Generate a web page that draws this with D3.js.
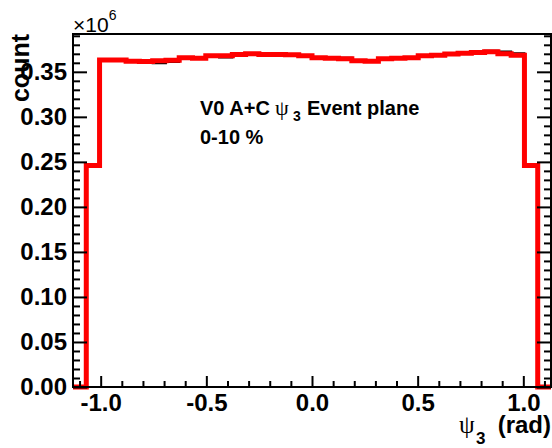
<!DOCTYPE html>
<html>
<head>
<meta charset="utf-8">
<script src="https://cdn.jsdelivr.net/npm/d3@7"></script>
<style>
  html, body { margin: 0; padding: 0; background: #fff; }
  svg { display: block; }
</style>
</head>
<body>
<script>
// ---- data ----
const xMin = -1.131, xMax = 1.131, nBins = 36;
// red histogram (counts per bin)
const redCounts = [0, 246000,
  363000, 363000, 361700, 361500, 362200, 362800, 365600, 365000,
  367800, 367800, 369200, 370000, 369200, 369200, 368900, 367800,
  365600, 365000, 364400, 362200, 361700, 364400, 365200, 365600,
  367800, 368300, 369700, 370600, 371400, 372200, 370000, 368300,
  246000, 0];
// black histogram (counts per bin)
const blackCounts = [0, 246000,
  364000, 363500, 361500, 360500, 359500, 361000, 364500, 365500,
  366500, 366000, 368500, 370500, 369500, 369000, 369500, 368500,
  366000, 364500, 365500, 363000, 361500, 363500, 366000, 366500,
  368500, 369000, 370000, 371500, 372000, 373500, 372500, 370500,
  246000, 0];
const xMajor = [-1.0, -0.5, 0.0, 0.5, 1.0];
const xMajorLabels = ["-1.0", "-0.5", "0.0", "0.5", "1.0"];
const xMinor = [-1.1, -0.9, -0.8, -0.7, -0.6, -0.4, -0.3, -0.2, -0.1, 0.1, 0.2, 0.3, 0.4, 0.6, 0.7, 0.8, 0.9, 1.1];
const yMajor = [0, 50000, 100000, 150000, 200000, 250000, 300000, 350000];
const yMajorLabels = ["0.00", "0.05", "0.10", "0.15", "0.20", "0.25", "0.30", "0.35"];
const yMinor = [10000, 20000, 30000, 40000, 60000, 70000, 80000, 90000, 110000, 120000, 130000, 140000,
  160000, 170000, 180000, 190000, 210000, 220000, 230000, 240000, 260000, 270000, 280000, 290000,
  310000, 320000, 330000, 340000, 360000, 370000, 380000, 390000];

// ---- layout ----
const W = 552, H = 448;
const L = 73, R = 551, T = 34, B = 387;
const FONT = "'Liberation Sans', Arial, Helvetica, sans-serif";
const SERIF = "'Liberation Serif', 'Times New Roman', serif";

const svg = d3.select("body").append("svg").attr("width", W).attr("height", H);

const x = d3.scaleLinear().domain([xMin, xMax]).range([L, R]);
const y = d3.scaleLinear().domain([0, 392000]).range([B, T]);

const binW = (xMax - xMin) / nBins;
function stepPoints(counts) {
  const pts = counts.map((c, i) => [xMin + i * binW, c]);
  pts.push([xMax, counts[counts.length - 1]]);
  return pts;
}
const line = d3.line().x(d => x(d[0])).y(d => y(d[1])).curve(d3.curveStepAfter);

// histograms
svg.append("path").attr("d", line(stepPoints(blackCounts)))
  .attr("fill", "none").attr("stroke", "#000").attr("stroke-width", 2);
svg.append("path").attr("d", line(stepPoints(redCounts)))
  .attr("fill", "none").attr("stroke", "#ff0000").attr("stroke-width", 5);

// axes
function styleAxis(g) {
  g.select(".domain").remove();
  g.selectAll(".tick line").attr("stroke", "#000").attr("stroke-width", 2);
  g.selectAll("text").attr("font-family", FONT).attr("font-weight", "bold")
    .attr("font-size", 24).attr("fill", "#000");
}
// left
svg.append("g").attr("transform", `translate(${L},0)`)
  .call(d3.axisLeft(y).tickValues(yMinor).tickSize(-7).tickFormat(""))
  .call(styleAxis);
svg.append("g").attr("transform", `translate(${L},0)`)
  .call(d3.axisLeft(y).tickValues(yMajor).tickSize(-14).tickPadding(6)
    .tickFormat((d, i) => yMajorLabels[i]))
  .call(styleAxis);
// right
svg.append("g").attr("transform", `translate(${R},0)`)
  .call(d3.axisRight(y).tickValues(yMinor).tickSize(-7).tickFormat(""))
  .call(styleAxis);
svg.append("g").attr("transform", `translate(${R},0)`)
  .call(d3.axisRight(y).tickValues(yMajor).tickSize(-14).tickFormat(""))
  .call(styleAxis);
// bottom
svg.append("g").attr("transform", `translate(0,${B})`)
  .call(d3.axisBottom(x).tickValues(xMinor).tickSize(-6).tickFormat(""))
  .call(styleAxis);
svg.append("g").attr("transform", `translate(0,${B})`)
  .call(d3.axisBottom(x).tickValues(xMajor).tickSize(-11).tickPadding(7)
    .tickFormat((d, i) => xMajorLabels[i]))
  .call(styleAxis);

// frame
svg.append("rect").attr("x", L).attr("y", T).attr("width", R - L).attr("height", B - T)
  .attr("fill", "none").attr("stroke", "#000").attr("stroke-width", 2);

// y title
svg.append("text").attr("transform", `translate(29,${T}) rotate(-90)`)
  .attr("text-anchor", "end").attr("font-family", FONT).attr("font-weight", "bold")
  .attr("font-size", 25).text("count");

// exponent
const ex = svg.append("text").attr("x", L).attr("y", 32)
  .attr("font-family", FONT).attr("font-size", 21);
ex.append("tspan").text("×10");
ex.append("tspan").attr("font-size", 14).attr("dy", -12).text("6");

// x title
svg.append("text").attr("x", 459).attr("y", 433)
  .attr("font-family", SERIF).attr("font-size", 25).text("ψ");
svg.append("text").attr("x", 476).attr("y", 444)
  .attr("font-family", FONT).attr("font-weight", "bold").attr("font-size", 17).text("3");
svg.append("text").attr("x", R).attr("y", 433).attr("text-anchor", "end")
  .attr("font-family", FONT).attr("font-weight", "bold").attr("font-size", 24).text("(rad)");

// annotation
svg.append("text").attr("x", 200).attr("y", 115)
  .attr("font-family", FONT).attr("font-weight", "bold").attr("font-size", 20).text("V0 A+C");
svg.append("text").attr("x", 275).attr("y", 115)
  .attr("font-family", SERIF).attr("font-size", 22).text("ψ");
svg.append("text").attr("x", 293).attr("y", 121)
  .attr("font-family", FONT).attr("font-weight", "bold").attr("font-size", 14).text("3");
svg.append("text").attr("x", 307).attr("y", 115)
  .attr("font-family", FONT).attr("font-weight", "bold").attr("font-size", 20).text("Event plane");
svg.append("text").attr("x", 200).attr("y", 144)
  .attr("font-family", FONT).attr("font-weight", "bold").attr("font-size", 20)
  .text("0-10 %");
</script>
</body>
</html>
